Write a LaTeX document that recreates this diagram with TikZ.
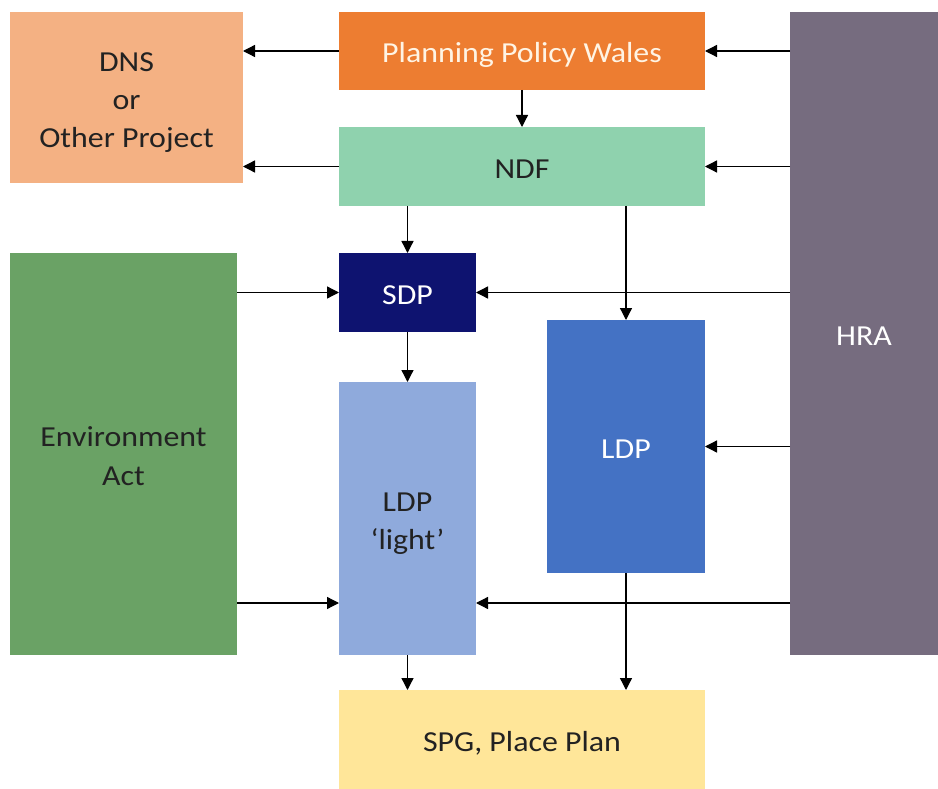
\documentclass[tikz,border=0pt]{standalone}
\usepackage{fontspec}
\setmainfont[FakeStretch=1.1]{Carlito}
\usetikzlibrary{arrows.meta}
\definecolor{cDNS}{HTML}{F4B183}
\definecolor{cPPW}{HTML}{ED7D31}
\definecolor{cNDF}{HTML}{8FD2AE}
\definecolor{cHRA}{HTML}{766C7F}
\definecolor{cENV}{HTML}{6AA265}
\definecolor{cSDP}{HTML}{0E1370}
\definecolor{cLDPL}{HTML}{8FAADC}
\definecolor{cLDP}{HTML}{4472C4}
\definecolor{cSPG}{HTML}{FFE699}
\definecolor{cTxt}{HTML}{222222}
\definecolor{cCream}{HTML}{FFF4E4}
\newcommand{\mlines}[1]{\begin{tabular}[t]{@{}c@{}}#1\end{tabular}}
\begin{document}
\begin{tikzpicture}[x=1pt,y=-1pt,
  box/.style={draw=none,inner sep=0pt,outer sep=0pt,anchor=north west,align=center,
    font=\fontsize{29}{38.3}\selectfont,text=cTxt,text height=30pt,text depth=6pt},
  lines2/.style={text depth=44.3pt},
  lines3/.style={text depth=82.6pt},
  arr/.style={line width=1.3pt,-{Triangle[length=12pt,width=12pt]}}]
\useasboundingbox[fill=white] (0,0) rectangle (938,789);
\node[box,lines3,fill=cDNS,minimum width=233pt,minimum height=171pt] (dns) at (10,12) {\mlines{DNS\\or\\Other Project}};
\node[box,fill=cPPW,minimum width=366pt,minimum height=78pt,text=cCream] (ppw) at (339,12) {Planning Policy Wales};
\node[box,fill=cNDF,minimum width=366pt,minimum height=79pt] (ndf) at (339,127) {NDF};
\node[box,fill=cHRA,minimum width=148pt,minimum height=643pt,text=white] (hra) at (790,12) {HRA};
\node[box,lines2,fill=cENV,minimum width=227pt,minimum height=402pt] (env) at (10,253) {\mlines{Environment\\Act}};
\node[box,fill=cSDP,minimum width=137pt,minimum height=79pt,text=white] (sdp) at (339,253) {SDP};
\node[box,lines2,fill=cLDPL,minimum width=137pt,minimum height=273pt] (ldpl) at (339,382) {\mlines{LDP\\‘light’}};
\node[box,fill=cLDP,minimum width=158pt,minimum height=253pt,text=white] (ldp) at (547,320) {LDP};
\node[box,fill=cSPG,minimum width=366pt,minimum height=99pt] (spg) at (339,690) {SPG, Place Plan};
\coordinate (ya) at (0,603);
% arrows
\draw[arr] (ppw.west) -- (ppw.west -| dns.east);
\draw[arr] (ndf.west) -- (ndf.west -| dns.east);
\draw[arr] (ppw.east -| hra.west) -- (ppw.east);
\draw[arr] (ndf.east -| hra.west) -- (ndf.east);
\draw[arr] (ppw.south) -- (ndf.north);
\draw[arr] (sdp.north |- ndf.south) -- (sdp.north);
\draw[arr] (ldp.north |- ndf.south) -- (ldp.north);
\draw[arr] (sdp.west -| env.east) -- (sdp.west);
\draw[arr] (sdp.east -| hra.west) -- (sdp.east);
\draw[arr] (sdp.south) -- (ldpl.north);
\draw[arr] (ldp.east -| hra.west) -- (ldp.east);
\draw[arr] (ya -| env.east) -- (ya -| ldpl.west);
\draw[arr] (ya -| hra.west) -- (ya -| ldpl.east);
\draw[arr] (ldpl.south) -- (ldpl.south |- spg.north);
\draw[arr] (ldp.south) -- (ldp.south |- spg.north);
\end{tikzpicture}
\end{document}
